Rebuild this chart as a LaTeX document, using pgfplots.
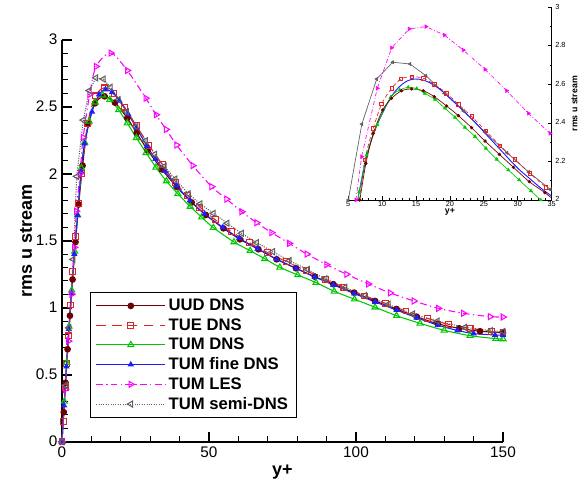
\documentclass[border=0pt]{standalone}
\usepackage{pgfplots}
\pgfplotsset{compat=1.18}
\usepackage{fontspec}
\setmainfont{Liberation Sans}
\definecolor{uudc}{RGB}{110,0,0}
\definecolor{tuec}{RGB}{225,35,35}
\definecolor{tumc}{RGB}{0,200,0}
\definecolor{finec}{RGB}{30,30,255}
\definecolor{lesc}{RGB}{255,0,255}
\definecolor{semic}{RGB}{95,95,95}
\begin{document}
\begin{tikzpicture}
\path[use as bounding box] (0,0) rectangle (441pt,366.75pt);
\begin{axis}[
  at={(46.5pt,35.5pt)}, anchor=south west,
  width=330.75pt, height=301.5pt, scale only axis,
  xmin=0, xmax=150, ymin=0, ymax=3,
  clip=false,
  axis x line=bottom, axis y line=left,
  axis line style={-, line width=1.6pt},
  tick align=inside,
  xtick={0,50,100,150}, minor x tick num=4,
  ytick={0,0.5,1,1.5,2,2.5,3}, minor y tick num=4,
  major tick length=7.5pt, minor tick length=4.5pt,
  every major tick/.append style={line width=1.6pt, black},
  every minor tick/.append style={line width=0.8pt, black},
  /pgf/number format/assume math mode=true,
  ticklabel style={font=\fontsize{11.5}{13}\selectfont},
  xlabel={y+}, ylabel={rms u stream},
  label style={font=\bfseries\fontsize{13.5}{15}\selectfont},
  xlabel style={yshift=1pt},
  ylabel style={yshift=-4pt},
  legend cell align=left,
  legend style={at={(0.0635,0.372)}, anchor=north west,
    fill=white, font=\bfseries\fontsize{12.5}{13}\selectfont,
    inner xsep=4pt, inner ysep=3pt, row sep=0.4pt,
    nodes={inner sep=2pt}},
  legend image code/.code={\draw[mark repeat=2,mark phase=2] plot coordinates {(0pt,0pt) (26pt,0pt) (52pt,0pt)};},
]
% UUD DNS
\addplot[color=uudc, line width=0.8pt, smooth, mark=*, mark size=2.1pt, mark options={solid, fill=uudc}] coordinates {
(0,0)(0.6,0.22)(1.2,0.44)(1.9,0.69)(2.7,0.94)(3.6,1.21)(4.6,1.49)(5.7,1.77)(7.0,2.06)(8.9,2.37)(11.2,2.525)(14.5,2.577)(18.0,2.53)(22.2,2.415)(25.4,2.303)(29.1,2.177)(33.9,2.033)(39.0,1.902)(44.1,1.785)(48.9,1.692)(54.9,1.592)(60.5,1.51)(66.8,1.436)(73.0,1.361)(79.6,1.294)(86.0,1.231)(92.3,1.175)(99.4,1.112)(106.5,1.05)(113.8,0.99)(120.6,0.933)(127.8,0.88)(135.1,0.846)(142.2,0.824)(150,0.813)};
\addlegendentry{UUD DNS}
% TUE DNS
\addplot[color=tuec, line width=0.8pt, smooth, dash pattern=on 7pt off 5pt, mark=square, mark size=2.2pt, mark options={solid, line width=0.8pt}] coordinates {
(0,0)(0.4,0.15)(1.1,0.406)(1.6,0.585)(2.2,0.789)(2.9,1.02)(3.7,1.27)(4.6,1.53)(5.6,1.78)(6.7,2.0)(8.7,2.372)(11.4,2.58)(14.35,2.64)(17.69,2.60)(21.23,2.497)(25.3,2.358)(29.6,2.211)(34.17,2.066)(38.5,1.935)(42.7,1.835)(46.9,1.75)(52.2,1.655)(57.7,1.567)(63.7,1.485)(70,1.41)(76.4,1.343)(83,1.276)(89.5,1.212)(95.9,1.152)(103,1.087)(109.9,1.033)(117,0.975)(124.3,0.92)(131.4,0.876)(138.8,0.846)(146.1,0.821)(150,0.815)};
\addlegendentry{TUE DNS}
% TUM DNS
\addplot[color=tumc, line width=0.8pt, smooth, mark=triangle, mark size=2.6pt, mark options={solid, line width=0.8pt}] coordinates {
(0,0)(0.8,0.30)(1.6,0.59)(2.4,0.86)(3.3,1.13)(4.3,1.42)(5.3,1.69)(6.62,2.043)(7.7,2.234)(9.28,2.39)(11.25,2.533)(13.85,2.585)(16.3,2.553)(19.26,2.476)(22.2,2.377)(25.3,2.268)(28.6,2.156)(31.95,2.047)(35.5,1.945)(39.4,1.85)(43.6,1.755)(47.5,1.675)(51.5,1.597)(58.5,1.49)(64,1.425)(69,1.365)(74.1,1.301)(80.2,1.244)(86.4,1.187)(92.6,1.122)(99.5,1.063)(106.5,1.003)(113.8,0.94)(121.8,0.883)(130,0.831)(138.8,0.791)(147.6,0.769)(150,0.766)};
\addlegendentry{TUM DNS}
% TUM fine DNS
\addplot[color=finec, line width=0.8pt, smooth, mark=triangle*, mark size=2.0pt, mark options={solid, fill=finec}] coordinates {
(0,0)(0.7,0.27)(1.5,0.56)(2.3,0.84)(3.2,1.11)(4.2,1.40)(5.3,1.69)(6.48,2.017)(7.7,2.225)(10.2,2.462)(12.6,2.59)(14.8,2.628)(17.05,2.608)(19.5,2.545)(22.5,2.445)(25.4,2.338)(28.9,2.205)(31.8,2.11)(35,2.02)(39,1.91)(43.5,1.80)(48.5,1.70)(54.7,1.600)(60.3,1.518)(66.5,1.44)(73,1.362)(79.6,1.293)(86,1.229)(92.3,1.17)(99.4,1.105)(106.5,1.043)(113.8,0.982)(120.6,0.925)(127.8,0.87)(134.5,0.83)(140,0.807)(147.3,0.796)(150,0.795)};
\addlegendentry{TUM fine DNS}
% TUM LES
\addplot[color=lesc, line width=0.8pt, smooth, dash pattern=on 5pt off 2.5pt on 1pt off 2.5pt, mark=triangle, mark size=2.6pt, mark options={solid, rotate=-90, line width=0.8pt}] coordinates {
(0,0)(1.1,0.39)(2.2,0.75)(3.3,1.1)(4.2,1.45)(4.9,1.72)(6.13,2.0)(7.2,2.27)(9.4,2.59)(11.6,2.80)(16.6,2.90)(22.2,2.77)(28.5,2.563)(32,2.44)(35.4,2.33)(39,2.214)(44.5,2.06)(50.9,1.903)(56,1.81)(61.1,1.716)(66.2,1.634)(71.3,1.56)(77.3,1.48)(83.3,1.40)(90,1.321)(96.8,1.249)(104.2,1.177)(111.6,1.11)(119.7,1.05)(128,0.995)(136.5,0.958)(145.6,0.933)(150,0.93)};
\addlegendentry{TUM LES}
% TUM semi-DNS
\addplot[color=semic, line width=0.8pt, dash pattern=on 0.8pt off 1pt, mark=triangle, mark size=2.6pt, mark options={solid, rotate=90, line width=0.8pt}] coordinates {
(0,0)(1.2,0.42)(2.4,0.85)(3.8,1.36)(5.0,1.98)(7.25,2.40)(9.3,2.62)(11.55,2.715)(14.1,2.706)(16.46,2.645)(19.2,2.553)(22,2.462)(25.2,2.352)(28.4,2.245)(31.6,2.145)(34.8,2.055)(38.5,1.96)(43,1.85)(47,1.775)(51.5,1.704)(56.2,1.63)(61.1,1.555)(66.2,1.485)(71.7,1.418)(77.3,1.351)(83.5,1.285)(89.5,1.215)(96.3,1.152)(103,1.09)(111,1.025)(119.3,0.953)(127.7,0.90)(137,0.853)(145.8,0.828)(150,0.822)};
\addlegendentry{TUM semi-DNS}
\end{axis}
% inset
\begin{axis}[
  at={(261.2pt,216.75pt)}, anchor=south west,
  width=152.55pt, height=144.5pt, scale only axis,
  xmin=5, xmax=35, ymin=2, ymax=3,
  axis x line=bottom, axis y line=right,
  axis line style={-, line width=0.6pt},
  tick align=inside,
  xtick={5,10,15,20,25,30,35}, minor x tick num=4,
  ytick={2,2.2,2.4,2.6,2.8,3}, minor y tick num=1,
  major tick length=3pt, minor tick length=1.6pt,
  every major tick/.append style={line width=0.6pt, black},
  every minor tick/.append style={line width=0.4pt, black},
  /pgf/number format/assume math mode=true,
  ticklabel style={font=\fontsize{5.5}{6}\selectfont, inner sep=1pt},
  yticklabel style={xshift=1.5pt, yshift=0.5pt},
  xlabel={y+}, ylabel={rms u stream},
  label style={font=\bfseries\fontsize{6.6}{7}\selectfont},
  xlabel style={yshift=3pt},
  ylabel style={yshift=0pt},
]
\addplot[color=semic, line width=0.5pt, mark=triangle*, mark size=1.3pt, mark options={solid, rotate=90, fill=semic}] coordinates {
(5.0,2.0)(7.0,2.394)(9.2,2.628)(11.55,2.715)(14.1,2.706)(16.46,2.645)(19.2,2.553)(21.97,2.462)(25.17,2.352)(28.4,2.245)(31.6,2.145)(34.8,2.055)(36,2.025)};
\addplot[color=lesc, line width=0.5pt, dash pattern=on 3pt off 1.5pt on 0.6pt off 1.5pt, mark=triangle*, mark size=1.5pt, mark options={solid, rotate=-90, fill=lesc}] coordinates {
(5.8,1.91)(6.13,2.0)(6.97,2.225)(9.28,2.58)(11.4,2.79)(14.0,2.888)(16.46,2.90)(19.17,2.856)(21.97,2.778)(25.17,2.678)(28.36,2.567)(31.56,2.45)(34.76,2.346)(36,2.31)};
\addplot[color=tuec, line width=0.5pt, smooth, dash pattern=on 3pt off 2pt, mark=square, mark size=1.3pt, mark options={solid, line width=0.6pt}] coordinates {
(6.4,1.93)(7.46,2.208)(8.69,2.372)(9.92,2.498)(11.4,2.58)(12.77,2.628)(14.35,2.64)(16.07,2.632)(17.69,2.60)(19.5,2.554)(21.23,2.497)(23.2,2.433)(25.3,2.358)(27.38,2.282)(29.6,2.211)(31.8,2.138)(34.17,2.066)(36.5,2.0)};
\addplot[color=finec, line width=0.7pt, smooth] coordinates {
(6.0,1.92)(6.48,2.017)(7.7,2.225)(8.9,2.36)(10.2,2.462)(11.4,2.54)(12.6,2.59)(13.7,2.618)(14.8,2.628)(15.9,2.624)(17.05,2.608)(18.3,2.58)(19.5,2.545)(21.0,2.497)(22.5,2.445)(24.0,2.392)(25.4,2.338)(27.2,2.27)(28.9,2.205)(30.3,2.155)(31.8,2.11)(33.4,2.062)(35.0,2.02)(36,1.995)};
\addplot[color=tumc, line width=0.5pt, smooth, mark=triangle*, mark size=1.3pt, mark options={solid, fill=tumc}] coordinates {
(6.0,1.90)(6.62,2.043)(7.7,2.234)(9.28,2.39)(11.25,2.533)(12.6,2.571)(13.85,2.585)(15.1,2.578)(16.3,2.553)(17.8,2.522)(19.26,2.476)(20.74,2.429)(22.2,2.377)(23.7,2.329)(25.3,2.268)(26.9,2.211)(28.6,2.156)(30.2,2.104)(31.95,2.047)(33.4,2.0)(35.5,1.94)};
\addplot[color=uudc, line width=0.5pt, smooth, mark=*, mark size=1.0pt, mark options={solid, fill=uudc}] coordinates {
(6.0,1.86)(6.7,2.0)(7.6,2.19)(8.7,2.346)(10.07,2.467)(11.4,2.528)(12.87,2.567)(14.35,2.576)(16.07,2.567)(17.69,2.536)(19.5,2.488)(21.23,2.438)(23.2,2.375)(25.17,2.306)(27.28,2.237)(29.35,2.17)(31.7,2.095)(34.0,2.038)(36.0,1.98)};
\end{axis}
\end{tikzpicture}
\end{document}
